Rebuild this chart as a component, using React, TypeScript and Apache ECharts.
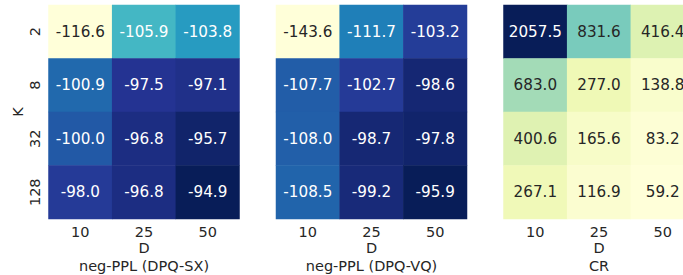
import React, { useEffect, useRef } from "react";
import * as echarts from "echarts";

const D_LABELS = ["10", "25", "50"];
const K_LABELS = ["2", "8", "32", "128"];
const PANEL_TITLES = ["neg-PPL (DPQ-SX)", "neg-PPL (DPQ-VQ)", "CR"];
const X_NAME = "D";
const Y_NAME = "K";

// rows: K = 2, 8, 32, 128 ; cols: D = 10, 25, 50
const SX_VALUES = [
  [-116.6, -105.9, -103.8],
  [-100.9, -97.5, -97.1],
  [-100.0, -96.8, -95.7],
  [-98.0, -96.8, -94.9],
];
const VQ_VALUES = [
  [-143.6, -111.7, -103.2],
  [-107.7, -102.7, -98.6],
  [-108.0, -98.7, -97.8],
  [-108.5, -99.2, -95.9],
];
const CR_VALUES = [
  [2057.5, 831.6, 416.4],
  [683.0, 277.0, 138.8],
  [400.6, 165.6, 83.2],
  [267.1, 116.9, 59.2],
];

const YLGNBU = [
  "#ffffd9", "#edf8b1", "#c7e9b4", "#7fcdbb", "#41b6c4",
  "#1d91c0", "#225ea8", "#253494", "#081d58",
];

const FONT = "DejaVu Sans";
const DARK = "#262626";

function hexToRgb(h: string) {
  const n = parseInt(h.slice(1), 16);
  return [(n >> 16) & 255, (n >> 8) & 255, n & 255];
}
function cmap(t: number) {
  t = Math.max(0, Math.min(1, t));
  const pos = t * (YLGNBU.length - 1);
  const i = Math.min(Math.floor(pos), YLGNBU.length - 2);
  const f = pos - i;
  const a = hexToRgb(YLGNBU[i]);
  const b = hexToRgb(YLGNBU[i + 1]);
  return a.map((v, k) => v + (b[k] - v) * f);
}
function textColorFor(t: number) {
  const rgb = cmap(t).map((v) => {
    const c = v / 255;
    return c <= 0.03928 ? c / 12.92 : Math.pow((c + 0.055) / 1.055, 2.4);
  });
  const lum = 0.2126 * rgb[0] + 0.7152 * rgb[1] + 0.0722 * rgb[2];
  return lum > 0.408 ? DARK : "#ffffff";
}

export default function App() {
  const ref = useRef<HTMLDivElement>(null);
  useEffect(() => {
    document.body.style.margin = "0";
    const chart = echarts.init(ref.current!, null, { renderer: "svg" });
    const panels = [SX_VALUES, VQ_VALUES, CR_VALUES];
    const lefts = [48.5, 276, 503.5];
    const W = 191;
    const TOP = 5;
    const H = 214;
    const grid = lefts.map((l) => ({
      left: l,
      top: TOP,
      width: W,
      height: H,
      outerBoundsMode: "none",
      containLabel: false,
    }));
    const xAxis = panels.map((_, i) => ({
      type: "category",
      gridIndex: i,
      data: D_LABELS,
      axisLine: { show: false },
      axisTick: { show: false },
      splitLine: { show: false },
      axisLabel: { color: DARK, fontFamily: FONT, fontSize: 14.5, margin: 5 },
    }));
    const yAxis = panels.map((_, i) => ({
      type: "category",
      gridIndex: i,
      data: K_LABELS,
      inverse: true,
      axisLine: { show: false },
      axisTick: { show: false },
      splitLine: { show: false },
      axisLabel: { show: i === 0, rotate: 90, color: DARK, fontFamily: FONT, fontSize: 14.5, margin: 6 },
    }));
    const visualMap = panels.map((vals, i) => {
      const flat = vals.flat();
      return {
        show: false,
        seriesIndex: i,
        dimension: 2,
        min: Math.min(...flat),
        max: Math.max(...flat),
        inRange: { color: YLGNBU },
      };
    });
    const series = panels.map((vals, i) => {
      const flat = vals.flat();
      const mn = Math.min(...flat);
      const mx = Math.max(...flat);
      const data: any[] = [];
      vals.forEach((row, r) =>
        row.forEach((v, c) => {
          data.push({
            value: [c, r, v],
            label: { color: textColorFor((v - mn) / (mx - mn)) },
          });
        })
      );
      return {
        type: "heatmap",
        xAxisIndex: i,
        yAxisIndex: i,
        data,
        label: {
          show: true,
          fontFamily: FONT,
          fontSize: 15.2,
          formatter: (p: any) => p.value[2].toFixed(1),
        },
        itemStyle: { borderWidth: 0 },
        emphasis: { disabled: true },
      };
    });
    const textStyle = (text: string) => ({
      text,
      fill: DARK,
      font: `14.5px "${FONT}"`,
      align: "center",
      verticalAlign: "middle",
      textAlign: "center",
      textVerticalAlign: "middle",
    });
    const graphic: any[] = [];
    lefts.forEach((l, i) => {
      const cx = l + W / 2;
      graphic.push({ type: "text", x: cx, y: 247.5, style: textStyle(X_NAME) });
      graphic.push({ type: "text", x: cx, y: 265.5, style: textStyle(PANEL_TITLES[i]) });
    });
    graphic.push({ type: "text", x: 17.5, y: TOP + H / 2, rotation: Math.PI / 2, style: textStyle(Y_NAME) });
    chart.setOption({
      animation: false,
      textStyle: { fontFamily: FONT },
      grid,
      xAxis,
      yAxis,
      visualMap,
      series,
      graphic,
    } as any);
    return () => chart.dispose();
  }, []);
  return <div ref={ref} style={{ width: 683, height: 275, background: "#fff" }} />;
}
